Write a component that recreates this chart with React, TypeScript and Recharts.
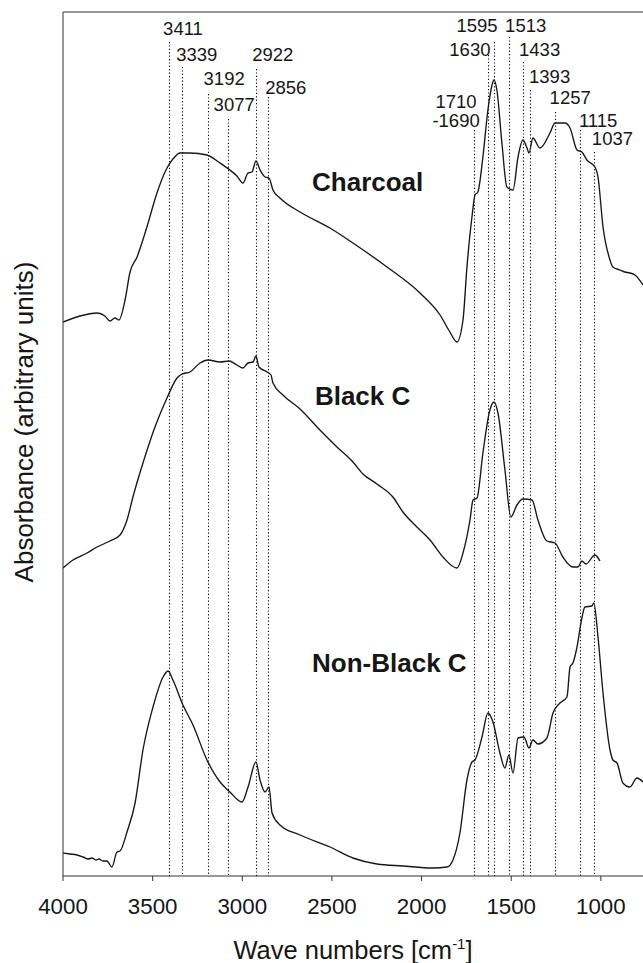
import React from 'react';
import { LineChart, Line, XAxis, YAxis, ReferenceLine, ReferenceDot, Label } from 'recharts';

const FONT = '"Liberation Sans", Arial, Helvetica, sans-serif';
const INK = '#161616';
const AXIS = '#333333';

// FTIR spectra: wave number (cm-1) and absorbance (arbitrary units, spectra stacked)
const charcoalWn = [4000, 3905, 3810, 3766, 3738, 3710, 3688, 3654, 3626, 3587, 3532, 3476, 3420, 3387, 3347, 3292, 3197, 3124, 3069, 3030, 2996, 2968, 2946, 2924, 2901, 2873, 2851, 2829, 2790, 2678, 2511, 2383, 2193, 2009, 1897, 1842, 1803, 1769, 1747, 1719, 1702, 1686, 1658, 1630, 1607, 1596, 1580, 1552, 1524, 1490, 1462, 1435, 1412, 1401, 1379, 1340, 1284, 1256, 1200, 1172, 1133, 1106, 1078, 1033, 1016, 988, 949, 933, 894, 866, 838, 810, 765];
const charcoalAbs = [554, 560, 563, 560, 555, 558, 556, 576, 604, 619, 649, 683, 708, 717, 723, 723, 721, 713, 706, 700, 693, 703, 704, 715, 706, 699, 698, 686, 678, 664, 648, 633, 609, 583, 561, 544, 534, 556, 609, 659, 681, 684, 719, 766, 791, 796, 786, 733, 689, 686, 719, 736, 728, 723, 738, 728, 743, 753, 753, 748, 726, 724, 716, 709, 699, 649, 616, 609, 606, 604, 603, 601, 591];

const blackWn = [4000, 3944, 3866, 3810, 3738, 3682, 3643, 3610, 3554, 3487, 3420, 3364, 3336, 3292, 3236, 3191, 3124, 3074, 3030, 2996, 2968, 2940, 2924, 2907, 2862, 2840, 2829, 2773, 2678, 2567, 2472, 2383, 2327, 2249, 2160, 2104, 2026, 1953, 1881, 1803, 1769, 1730, 1713, 1691, 1658, 1619, 1596, 1574, 1535, 1502, 1468, 1435, 1384, 1351, 1301, 1256, 1212, 1156, 1128, 1106, 1083, 1033, 1005];
const blackAbs = [308, 316, 323, 329, 335, 341, 356, 379, 413, 449, 478, 498, 502, 504, 513, 516, 514, 515, 511, 508, 513, 514, 520, 509, 504, 501, 493, 481, 467, 446, 429, 414, 402, 392, 379, 364, 349, 336, 319, 308, 323, 356, 376, 378, 423, 466, 474, 463, 406, 359, 371, 377, 376, 356, 335, 333, 319, 309, 309, 315, 312, 321, 315];

const nonBlackWn = [4000, 3961, 3922, 3888, 3860, 3838, 3816, 3799, 3777, 3755, 3727, 3699, 3682, 3643, 3598, 3554, 3498, 3442, 3414, 3387, 3331, 3275, 3197, 3124, 3069, 3002, 2968, 2924, 2901, 2873, 2851, 2834, 2790, 2678, 2511, 2383, 2249, 2104, 1937, 1858, 1825, 1786, 1747, 1719, 1702, 1663, 1630, 1602, 1563, 1535, 1513, 1490, 1462, 1429, 1401, 1379, 1351, 1301, 1267, 1228, 1189, 1172, 1156, 1133, 1106, 1089, 1050, 1039, 1016, 988, 949, 933, 910, 877, 838, 799, 765];
const nonBlackAbs = [23, 22, 21, 19, 17, 18, 16, 17, 15, 15, 9, 24, 25, 44, 73, 126, 169, 199, 205, 196, 171, 151, 116, 94, 84, 74, 89, 114, 96, 84, 89, 63, 51, 41, 29, 18, 12, 10, 8, 9, 16, 43, 96, 114, 116, 139, 163, 154, 123, 108, 121, 103, 138, 139, 128, 136, 132, 138, 163, 173, 179, 209, 213, 229, 258, 269, 270, 273, 239, 183, 126, 116, 113, 93, 89, 98, 94];

const curveNames = ['Charcoal', 'Black C', 'Non-Black C'];

const xTicks = [4000, 3500, 3000, 2500, 2000, 1500, 1000];
const yTicks = [76, 357, 638];

const peakWn = [3411, 3339, 3192, 3077, 2922, 2856, 1710, 1630, 1595, 1513, 1433, 1393, 1257, 1115, 1037];
const peakText = [['3411'], ['3339'], ['3192'], ['3077'], ['2922'], ['2856'], ['1710', '-1690'], ['1630'], ['1595'], ['1513'], ['1433'], ['1393'], ['1257'], ['1115'], ['1037']];

// layout only: where each dotted line starts and where its label sits relative to it
const peakLayout = [
  { top: 834, dx: 14.4, dy: -7.4 },
  { top: 809, dx: 15.2, dy: -5.7 },
  { top: 782, dx: 16.3, dy: -9.3 },
  { top: 757, dx: 5.7, dy: -7.6 },
  { top: 807, dx: 16.5, dy: -8.3 },
  { top: 779, dx: 17.6, dy: -3.4 },
  { top: 746, dx: -17.5, dy: -22.5 },
  { top: 821, dx: -18, dy: 1 },
  { top: 834, dx: -17.1, dy: -10 },
  { top: 839, dx: 16.8, dy: -5 },
  { top: 814, dx: 16.4, dy: -5.7 },
  { top: 786, dx: 19.2, dy: -6.7 },
  { top: 764, dx: 15.4, dy: -7.7 },
  { top: 746, dx: 17.9, dy: -3.3 },
  { top: 724, dx: 18.2, dy: -6.7 },
];
const nameLayout = [
  { wn: 2611, y: 685 },
  { wn: 2595, y: 471 },
  { wn: 2611, y: 204 },
];

const toRows = (wn: number[], abs: number[]) => wn.map((w, i) => ({ wn: w, abs: abs[i] }));
const series = [
  toRows(charcoalWn, charcoalAbs),
  toRows(blackWn, blackAbs),
  toRows(nonBlackWn, nonBlackAbs),
];

const XTitle = (props: any) => {
  const vb = props.viewBox || { x: 63, y: 876, width: 580 };
  return (
    <text x={vb.x + vb.width / 2} y={vb.y + 83} textAnchor="middle" fontFamily={FONT} fontSize={25.5} fill={INK}>
      Wave numbers [cm<tspan dy={-10} fontSize={15}>-1</tspan><tspan dy={10}>]</tspan>
    </text>
  );
};

const YTitle = (props: any) => {
  const vb = props.viewBox || { x: 0, y: 12, height: 864 };
  const cx = vb.x + 33;
  const cy = vb.y + vb.height / 2 - 22;
  return (
    <text x={cx} y={cy} transform={`rotate(-90 ${cx} ${cy})`} textAnchor="middle" fontFamily={FONT} fontSize={26} fill={INK}>
      Absorbance (arbitrary units)
    </text>
  );
};

export default function App() {
  return (
    <div style={{ position: 'absolute', left: 0, top: 0, width: 643, height: 963, background: '#fff' }}>
      <LineChart width={643} height={963} margin={{ top: 12, right: 0, bottom: 0, left: 0 }}>
        <XAxis
          type="number"
          dataKey="wn"
          domain={[765, 4000]}
          reversed
          allowDataOverflow
          ticks={xTicks}
          interval={0}
          height={87}
          tickSize={5}
          tickMargin={17}
          stroke={AXIS}
          tick={{ fill: INK, fontSize: 22.3, fontFamily: FONT }}
        >
          <Label content={XTitle} />
        </XAxis>
        <YAxis
          type="number"
          domain={[0, 864]}
          allowDataOverflow
          width={63}
          ticks={yTicks}
          tick={false}
          tickSize={-3}
          stroke={AXIS}
        >
          <Label content={YTitle} />
        </YAxis>
        <ReferenceLine y={864} stroke={AXIS} strokeWidth={1} />

        {peakWn.map((wn, i) => {
          const lay = peakLayout[i];
          return (
            <ReferenceLine
              key={wn}
              segment={[{ x: wn, y: lay.top }, { x: wn, y: 0 }]}
              shape={(p: any) => {
                const top = Math.min(p.y1, p.y2);
                const bottom = Math.max(p.y1, p.y2);
                const lx = Math.round(p.x1) + 0.5;
                return (
                  <g>
                    <line x1={lx} y1={top} x2={lx} y2={bottom} stroke="#000" strokeWidth={1.1} strokeDasharray="1.2 2.2" />
                    {peakText[i].map((t, j) => (
                      <text key={j} x={p.x1 + lay.dx} y={top + lay.dy + j * 19} textAnchor="middle" fontFamily={FONT} fontSize={18.5} fill={INK}>
                        {t}
                      </text>
                    ))}
                  </g>
                );
              }}
            />
          );
        })}

        {series.map((rows, i) => (
          <Line
            key={curveNames[i]}
            data={rows}
            dataKey="abs"
            type="monotone"
            stroke={INK}
            strokeWidth={1.35}
            dot={false}
            activeDot={false}
            isAnimationActive={false}
          />
        ))}

        {curveNames.map((name, i) => (
          <ReferenceDot
            key={name}
            x={nameLayout[i].wn}
            y={nameLayout[i].y}
            r={0}
            shape={(p: any) => (
              <text x={p.cx} y={p.cy} fontFamily={FONT} fontSize={26} fontWeight="bold" fill={INK}>
                {name}
              </text>
            )}
          />
        ))}
      </LineChart>
    </div>
  );
}
